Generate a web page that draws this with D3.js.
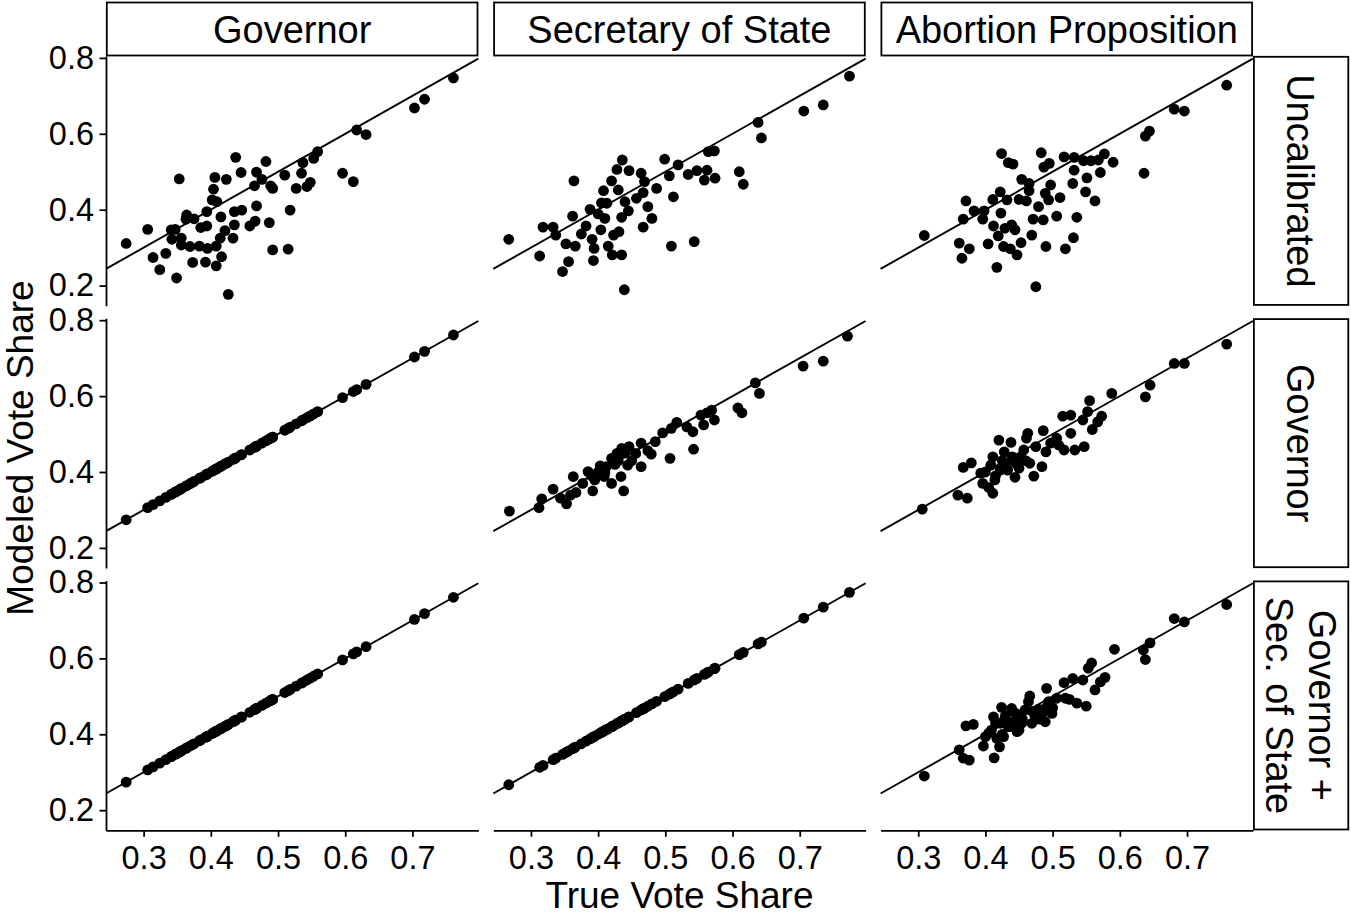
<!DOCTYPE html>
<html>
<head>
<meta charset="utf-8">
<script src="https://cdn.jsdelivr.net/npm/d3@7"></script>
<style>
body { margin: 0; background: #fff; }
svg { display: block; font-family: "Liberation Sans", Arial, Helvetica, sans-serif; }
</style>
</head>
<body>
<svg id="chart" width="1351" height="918"></svg>
<script>
// facet labels
const races = ["Governor", "Secretary of State", "Abortion Proposition"];
const calibrations = [["Uncalibrated"], ["Governor"], ["Governor +", "Sec. of State"]];

const xTicks = [0.3, 0.4, 0.5, 0.6, 0.7];
const yTicks = [0.2, 0.4, 0.6, 0.8];

// true vote share per county
const govTrue = [0.274,0.306,0.314,0.324,0.333,0.349,0.353,0.341,0.347,0.342,0.356,0.356,0.364,0.363,0.375,0.369,0.373,0.383,0.385,0.394,0.394,0.392,0.395,0.402,0.404,0.406,0.409,0.408,0.408,0.416,0.414,0.421,0.415,0.423,0.426,0.433,0.435,0.435,0.437,0.445,0.446,0.458,0.466,0.468,0.465,0.468,0.476,0.482,0.487,0.492,0.489,0.492,0.510,0.515,0.518,0.527,0.535,0.537,0.543,0.548,0.553,0.559,0.596,0.612,0.617,0.631,0.703,0.718,0.761];
const govUncal = [0.311,0.348,0.274,0.242,0.285,0.220,0.481,0.347,0.348,0.322,0.325,0.307,0.386,0.375,0.376,0.303,0.261,0.304,0.353,0.357,0.395,0.262,0.298,0.426,0.454,0.485,0.421,0.304,0.252,0.276,0.325,0.345,0.381,0.480,0.177,0.325,0.360,0.395,0.538,0.498,0.399,0.357,0.370,0.410,0.463,0.499,0.480,0.527,0.366,0.294,0.463,0.456,0.491,0.296,0.399,0.456,0.496,0.524,0.461,0.472,0.535,0.553,0.496,0.474,0.610,0.598,0.668,0.691,0.747];

const sosTrue = [0.267,0.313,0.318,0.333,0.337,0.347,0.356,0.352,0.366,0.362,0.364,0.375,0.382,0.388,0.391,0.394,0.393,0.400,0.404,0.408,0.405,0.413,0.410,0.415,0.420,0.423,0.421,0.428,0.430,0.431,0.435,0.436,0.435,0.439,0.440,0.445,0.446,0.457,0.464,0.467,0.469,0.467,0.474,0.480,0.487,0.499,0.506,0.509,0.512,0.519,0.534,0.543,0.547,0.558,0.562,0.564,0.573,0.574,0.610,0.616,0.638,0.643,0.706,0.735,0.774];
const sosUncal = [0.322,0.278,0.354,0.354,0.333,0.237,0.263,0.310,0.304,0.383,0.476,0.336,0.357,0.401,0.322,0.298,0.266,0.389,0.347,0.450,0.418,0.417,0.377,0.304,0.476,0.333,0.281,0.506,0.452,0.342,0.281,0.531,0.380,0.189,0.421,0.397,0.503,0.430,0.496,0.445,0.474,0.354,0.408,0.377,0.456,0.533,0.489,0.304,0.434,0.518,0.493,0.316,0.503,0.478,0.504,0.553,0.555,0.483,0.500,0.467,0.630,0.589,0.660,0.676,0.752];

const sosGovX = [0.268,0.312,0.316,0.333,0.344,0.353,0.359,0.363,0.367,0.377,0.385,0.392,0.395,0.403,0.409,0.412,0.420,0.420,0.428,0.434,0.438,0.435,0.444,0.446,0.456,0.464,0.464,0.474,0.479,0.485,0.496,0.507,0.509,0.517,0.532,0.541,0.542,0.553,0.557,0.562,0.569,0.573,0.608,0.614,0.634,0.640,0.705,0.735,0.771,0.390,0.400,0.410,0.425,0.430,0.440,0.450];
const sosGovY = [0.297,0.306,0.329,0.355,0.331,0.316,0.339,0.388,0.346,0.370,0.401,0.350,0.379,0.416,0.388,0.414,0.370,0.436,0.449,0.388,0.350,0.462,0.418,0.467,0.449,0.414,0.476,0.456,0.447,0.480,0.503,0.436,0.515,0.531,0.519,0.506,0.460,0.550,0.524,0.556,0.563,0.537,0.569,0.556,0.635,0.607,0.679,0.692,0.758,0.390,0.400,0.398,0.420,0.430,0.450,0.430];

const abortTrue = [0.309,0.361,0.365,0.376,0.367,0.371,0.383,0.396,0.398,0.404,0.411,0.412,0.417,0.419,0.422,0.423,0.424,0.427,0.429,0.432,0.434,0.437,0.441,0.439,0.444,0.447,0.450,0.453,0.454,0.461,0.465,0.465,0.469,0.471,0.475,0.479,0.483,0.486,0.487,0.489,0.490,0.494,0.495,0.497,0.506,0.511,0.517,0.519,0.530,0.532,0.532,0.531,0.536,0.546,0.549,0.551,0.557,0.563,0.568,0.571,0.577,0.590,0.636,0.638,0.644,0.681,0.696,0.759];
const abortUncal = [0.332,0.312,0.272,0.297,0.375,0.423,0.397,0.375,0.397,0.310,0.427,0.357,0.248,0.331,0.447,0.391,0.548,0.303,0.351,0.426,0.524,0.297,0.520,0.360,0.347,0.281,0.427,0.313,0.480,0.423,0.469,0.450,0.333,0.375,0.197,0.408,0.550,0.373,0.512,0.443,0.303,0.426,0.522,0.465,0.383,0.432,0.539,0.297,0.469,0.538,0.504,0.326,0.380,0.529,0.447,0.484,0.529,0.423,0.531,0.498,0.547,0.525,0.496,0.594,0.607,0.665,0.660,0.728];

const abortGovX = [0.306,0.359,0.367,0.379,0.373,0.393,0.396,0.405,0.411,0.414,0.408,0.411,0.420,0.422,0.428,0.438,0.433,0.444,0.445,0.452,0.457,0.461,0.463,0.466,0.472,0.475,0.484,0.486,0.490,0.497,0.506,0.509,0.515,0.517,0.527,0.527,0.533,0.545,0.547,0.552,0.555,0.559,0.567,0.573,0.588,0.638,0.645,0.681,0.696,0.759,0.400,0.415,0.425,0.430,0.440,0.450,0.460];
const abortGovY = [0.302,0.339,0.412,0.424,0.331,0.397,0.370,0.359,0.344,0.379,0.418,0.440,0.484,0.405,0.453,0.478,0.405,0.386,0.423,0.439,0.458,0.489,0.502,0.423,0.389,0.467,0.414,0.509,0.453,0.476,0.489,0.471,0.547,0.458,0.550,0.502,0.458,0.537,0.467,0.559,0.588,0.512,0.532,0.547,0.607,0.598,0.629,0.686,0.686,0.737,0.400,0.390,0.430,0.420,0.440,0.410,0.430];

const abortBothX = [0.309,0.361,0.367,0.376,0.371,0.382,0.397,0.405,0.412,0.413,0.409,0.417,0.421,0.424,0.422,0.429,0.434,0.439,0.442,0.450,0.454,0.459,0.464,0.466,0.469,0.474,0.479,0.484,0.489,0.491,0.494,0.499,0.506,0.517,0.519,0.525,0.530,0.536,0.545,0.550,0.553,0.558,0.563,0.571,0.578,0.592,0.635,0.638,0.645,0.681,0.696,0.759,0.400,0.427,0.447,0.415,0.430,0.440,0.455,0.470,0.480,0.490,0.500,0.425,0.445];
const abortBothY = [0.290,0.359,0.337,0.332,0.422,0.426,0.369,0.403,0.446,0.338,0.411,0.389,0.367,0.471,0.429,0.442,0.420,0.468,0.433,0.411,0.429,0.464,0.486,0.501,0.429,0.446,0.466,0.455,0.433,0.521,0.486,0.455,0.495,0.536,0.495,0.492,0.547,0.482,0.543,0.474,0.574,0.588,0.517,0.538,0.550,0.624,0.622,0.597,0.641,0.705,0.696,0.742,0.394,0.394,0.407,0.430,0.450,0.420,0.440,0.460,0.440,0.470,0.470,0.400,0.455];

// panels by [row][col]: x = true share, y = modeled share
// calibrated-to races are reproduced exactly, so modeled = true there
const panels = [
  [[govTrue, govUncal], [sosTrue, sosUncal], [abortTrue, abortUncal]],
  [[govTrue, govTrue], [sosGovX, sosGovY], [abortGovX, abortGovY]],
  [[govTrue, govTrue], [sosTrue, sosTrue], [abortBothX, abortBothY]]
];

// layout
const marginLeft = 106, marginTop = 56;
const panelW = 372.3, panelH = 249.7;
const colStep = 387.3, rowStep = 262.3;
const stripH = 53, stripW = 96;
const font = "Liberation Sans, Arial, Helvetica, sans-serif";
const tickFont = 32.5, stripFont = 38, titleFont = 37;

const svg = d3.select("#chart");

const x = d3.scaleLinear().domain([0.244, 0.798]).range([0, panelW]);
const y = d3.scaleLinear().domain([0.147, 0.805]).range([panelH, 0]);

// y = x reference line, clipped to the shared domain
const lo = Math.max(x.domain()[0], y.domain()[0]);
const hi = Math.min(x.domain()[1], y.domain()[1]);

panels.forEach((row, r) => {
  row.forEach((p, c) => {
    const g = svg.append("g")
      .attr("transform", "translate(" + (marginLeft + c * colStep) + "," + (marginTop + r * rowStep) + ")");

    g.append("line")
      .attr("x1", x(lo)).attr("y1", y(lo))
      .attr("x2", x(hi)).attr("y2", y(hi))
      .attr("stroke", "#000")
      .attr("stroke-width", 1.9);

    const pts = p[0].map((v, i) => [v, p[1][i]]);
    g.selectAll("circle")
      .data(pts)
      .join("circle")
      .attr("cx", d => x(d[0]))
      .attr("cy", d => y(d[1]))
      .attr("r", 5.4)
      .attr("fill", "#000");

    // left axis only on first column
    if (c === 0) {
      const ay = g.append("g")
        .call(d3.axisLeft(y).tickValues(yTicks).tickFormat(d3.format(".1f"))
          .tickSize(6.5).tickSizeOuter(0).tickPadding(5.5));
      styleAxis(ay);
    }
    // bottom axis only on last row
    if (r === 2) {
      const ax = g.append("g")
        .attr("transform", "translate(0," + panelH + ")")
        .call(d3.axisBottom(x).tickValues(xTicks).tickFormat(d3.format(".1f"))
          .tickSize(6.5).tickSizeOuter(0).tickPadding(9.5));
      styleAxis(ax);
    }
  });
});

function styleAxis(a) {
  a.select(".domain").attr("stroke", "#000").attr("stroke-width", 1.8);
  a.selectAll(".tick line").attr("stroke", "#000").attr("stroke-width", 1.8);
  a.selectAll(".tick text")
    .attr("fill", "#000")
    .style("font-family", font)
    .style("font-size", tickFont + "px");
}

// top strips
races.forEach((name, c) => {
  const sx = marginLeft + c * colStep;
  svg.append("rect")
    .attr("x", sx + 0.8).attr("y", marginTop - stripH - 0.5)
    .attr("width", panelW - 1.6).attr("height", stripH)
    .attr("fill", "#fff").attr("stroke", "#000").attr("stroke-width", 1.8);
  svg.append("text")
    .attr("x", sx + panelW / 2)
    .attr("y", marginTop - stripH / 2 + stripFont * 0.36)
    .attr("text-anchor", "middle")
    .style("font-size", stripFont + "px")
    .text(name);
});

// right strips
const stripX = marginLeft + 2 * colStep + panelW;
calibrations.forEach((lines, r) => {
  const sy = marginTop + r * rowStep;
  svg.append("rect")
    .attr("x", stripX + 1).attr("y", sy + 0.8)
    .attr("width", stripW - 1.6).attr("height", panelH - 1.6)
    .attr("fill", "#fff").attr("stroke", "#000").attr("stroke-width", 1.8);
  const cx = stripX + stripW / 2;
  const lineGap = 43;
  const t = svg.append("text")
    .attr("transform", "translate(" + cx + "," + (sy + panelH / 2) + ") rotate(90)")
    .attr("text-anchor", "middle")
    .style("font-size", stripFont + "px");
  lines.forEach((s, i) => {
    const off = (i - (lines.length - 1) / 2) * lineGap;
    t.append("tspan")
      .attr("x", 0)
      .attr("y", off + stripFont * 0.36)
      .text(s);
  });
});

// axis titles
svg.append("text")
  .attr("x", marginLeft + (2 * colStep + panelW) / 2)
  .attr("y", 908)
  .attr("text-anchor", "middle")
  .style("font-size", titleFont + "px")
  .text("True Vote Share");

svg.append("text")
  .attr("transform", "translate(33," + 448 + ") rotate(-90)")
  .attr("text-anchor", "middle")
  .style("font-size", titleFont + "px")
  .text("Modeled Vote Share");
</script>
</body>
</html>
